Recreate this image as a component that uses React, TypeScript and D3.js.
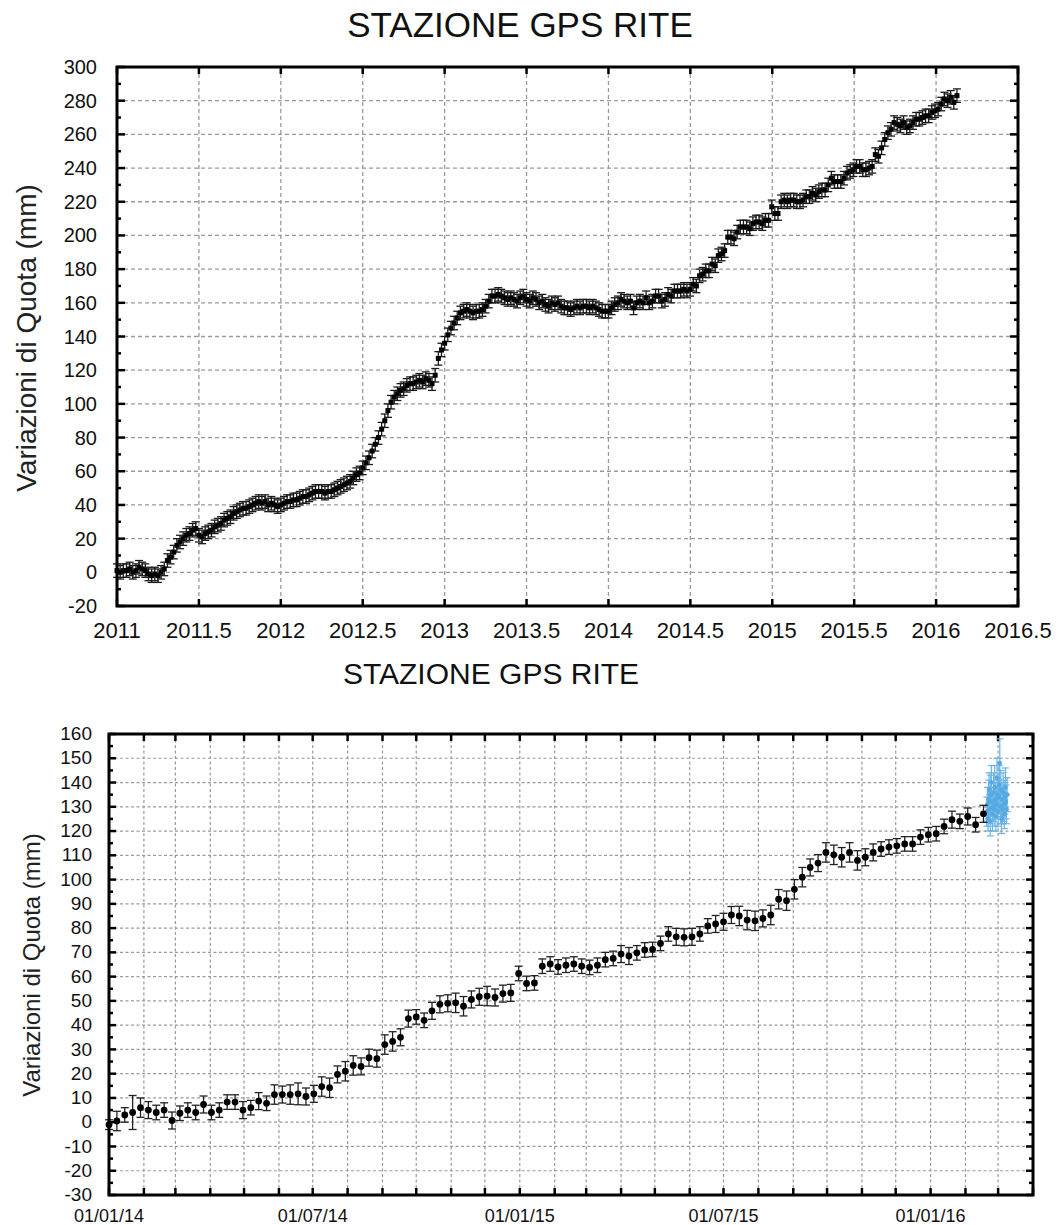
import React from 'react';
import * as d3 from 'd3';

const TITLE = 'STAZIONE GPS RITE';
const Y_LABEL = 'Variazioni di Quota (mm)';

// ---------- top chart (decimal years) ----------
const TOP_X_TICKS = [2011, 2011.5, 2012, 2012.5, 2013, 2013.5, 2014, 2014.5, 2015, 2015.5, 2016, 2016.5];
const TOP_Y_TICKS = [-20, 0, 20, 40, 60, 80, 100, 120, 140, 160, 180, 200, 220, 240, 260, 280, 300];
const TOP_Y_MINOR = [-10, 10, 30, 50, 70, 90, 110, 130, 150, 170, 190, 210, 230, 250, 270, 290];

// weekly readings per year
const TOP_2011 = [1, 0, 1, 1, 2, 0, 1, 3, 2, 1, -1, -2, -1, -2, 0, 2, 7, 9, 12, 16, 18, 20, 22, 23, 25, 26, 22, 21, 23, 24, 25, 27, 28, 29, 31, 32, 33, 35, 36, 37, 38, 38, 39, 40, 41, 42, 41, 42, 40, 41, 40, 39];
const TOP_2012 = [40, 41, 42, 42, 43, 43, 44, 45, 45, 46, 47, 48, 48, 48, 47, 48, 48, 49, 50, 51, 52, 53, 54, 56, 58, 59, 62, 65, 68, 72, 76, 80, 85, 90, 96, 101, 104, 106, 108, 109, 111, 112, 112, 113, 114, 113, 115, 114, 112, 117, 127, 132];
const TOP_2013 = [136, 141, 145, 148, 151, 154, 155, 156, 155, 154, 155, 155, 156, 158, 161, 164, 164, 165, 164, 163, 162, 163, 162, 161, 163, 164, 162, 161, 163, 162, 160, 161, 159, 158, 160, 159, 160, 158, 157, 157, 156, 157, 158, 157, 158, 158, 157, 158, 157, 156, 155, 155];
const TOP_2014_2016 = [155, 157, 159, 160, 162, 161, 160, 161, 157, 160, 161, 160, 163, 160, 161, 164, 164, 161, 162, 165, 164, 167, 167, 167, 168, 167, 168, 171, 170, 176, 177, 179, 179, 183, 182, 188, 189, 191, 199, 199, 198, 202, 205, 205, 205, 204, 207, 208, 208, 207, 209, 209, 217, 213, 213, 220, 221, 220, 221, 221, 220, 220, 221, 223, 223, 225, 224, 226, 227, 227, 230, 234, 232, 232, 232, 234, 237, 238, 239, 241, 241, 239, 239, 240, 241, 248, 247, 252, 257, 261, 263, 267, 266, 265, 267, 264, 265, 267, 269, 269, 270, 271, 271, 273, 274, 275, 278, 281, 280, 282, 279, 283];
const TOP_ERR = 4;

// ---------- bottom chart (weekly from 01/01/14) ----------
const BOT_START = new Date(2014, 0, 1);
const BOT_END = new Date(2016, 3, 1);
const BOT_Y_TICKS = [-30, -20, -10, 0, 10, 20, 30, 40, 50, 60, 70, 80, 90, 100, 110, 120, 130, 140, 150, 160];
const BOT_X_LABELS = [new Date(2014, 0, 1), new Date(2014, 6, 1), new Date(2015, 0, 1), new Date(2015, 6, 1), new Date(2016, 0, 1)];
const BOT_VALUES = [-1, 0.5, 3, 4, 6, 5, 4, 5, 0.7, 3.7,
  5, 4, 7.3, 4, 5, 8.3, 8.3, 5, 6, 8.7,
  7.8, 11.4, 11.4, 11.4, 11.7, 10.6, 11.7, 14.7, 14.2, 19.7,
  21, 23.4, 23, 26.6, 26.2, 32, 33.3, 35, 42.7, 43.4,
  42, 45.9, 48.6, 49, 49.2, 47.8, 50.6, 51.7, 52, 51.4,
  53, 53.3, 61.3, 57.2, 57.4, 64.3, 65.2, 64, 64.7, 65.2,
  64.3, 63.8, 64.7, 67, 67.5, 69.3, 68.5, 69.8, 71, 71.2,
  73.7, 77.6, 76.4, 76.2, 76.4, 77.6, 80.9, 81.7, 82.6, 85.4,
  85, 83.3, 83, 84, 85.4, 91.9, 91.3, 96, 101, 105,
  106.8, 111.2, 110.2, 109.2, 111.2, 107.9, 109.2, 111.2, 112.6, 113.4,
  113.9, 114.7, 114.7, 117.5, 118.5, 118.9, 121.9, 124.7, 124, 126,
  122.6, 127.1];
const BOT_ERR = [2, 4, 3, 7, 4, 3.5, 3, 3, 3.5, 3,
  3, 3, 3.5, 3, 3, 3, 3, 3.5, 3, 3.5,
  3, 4, 3.5, 4, 4.5, 3.5, 3.5, 4, 4, 3.5,
  4, 4, 3.5, 3.5, 3.5, 4, 4, 3.5, 3.5, 3,
  3, 3.5, 3.5, 3.5, 4, 4, 3.5, 3.5, 4, 3.5,
  3.5, 3.5, 3, 3, 3, 3, 3, 3, 3, 3,
  3, 3, 3, 3, 3, 3.5, 3.5, 3, 3, 3,
  3, 3, 3.5, 3.5, 3.5, 3, 3, 3.5, 3.5, 3.5,
  4, 4, 4, 3.5, 4, 4, 4, 4, 4, 3.5,
  3.5, 4, 4, 4, 4, 4, 3.5, 3.5, 3, 3,
  3, 3, 3, 3, 3, 3, 3, 3.5, 3, 3.5,
  3, 3.5];
// blue cluster: days after 01/01/16
const BLUE_DAYS = [50, 50.5, 51, 51.5, 52, 52.5, 53, 53.5, 54, 54.5, 55, 55.5, 56, 56.5, 57, 57.5, 58, 58.5, 59, 59.5, 60, 60.5, 61, 61.5, 62, 62.5, 63, 63.5, 64, 64.5, 65, 65.5, 66, 66.5, 67, 67.5, 68];
const BLUE_VALUES = [128, 131, 125, 133, 137, 129, 124, 135, 140, 132, 127, 130, 136, 129, 138, 133, 126, 131, 142, 135, 128, 134, 139, 148, 130, 137, 125, 133, 129, 136, 131, 127, 134, 138, 132, 129, 135];
const BLUE_ERR = [6, 7, 5, 8, 7, 6, 6, 8, 7, 6, 7, 6, 8, 7, 9, 7, 6, 6, 8, 7, 6, 7, 8, 10, 7, 8, 6, 7, 6, 8, 7, 6, 7, 8, 7, 6, 7];

const FONT = '"Liberation Sans", Arial, Helvetica, sans-serif';

type Pt = { x: number; y: number; e: number };

function ErrPoint({ px, py0, py1, cap, color, sw }: { px: number; py0: number; py1: number; cap: number; color: string; sw: number }) {
  return (
    <g stroke={color} strokeWidth={sw}>
      <line x1={px} x2={px} y1={py0} y2={py1} />
      <line x1={px - cap} x2={px + cap} y1={py0} y2={py0} />
      <line x1={px - cap} x2={px + cap} y1={py1} y2={py1} />
    </g>
  );
}

export default function App() {
  const W = 1058, H = 1225;

  // top scales
  const tx = d3.scaleLinear().domain([2011, 2016.5]).range([117, 1018]);
  const ty = d3.scaleLinear().domain([-20, 300]).range([606, 67]);
  const topPts: Pt[] = [];
  TOP_2011.forEach((v, i) => topPts.push({ x: 2011 + i / 52, y: v, e: TOP_ERR }));
  TOP_2012.forEach((v, i) => topPts.push({ x: 2012 + i / 52, y: v, e: TOP_ERR }));
  TOP_2013.forEach((v, i) => topPts.push({ x: 2013 + i / 52, y: v, e: TOP_ERR }));
  TOP_2014_2016.forEach((v, i) => topPts.push({ x: 2014 + (i * 7) / 365.25, y: v, e: TOP_ERR }));

  // bottom scales
  const bx = d3.scaleTime().domain([BOT_START, BOT_END]).range([109, 1033]);
  const by = d3.scaleLinear().domain([-30, 160]).range([1195, 734]);
  const botPts = BOT_VALUES.map((v, i) => ({ d: d3.timeDay.offset(BOT_START, i * 7), y: v, e: BOT_ERR[i] ?? 3.5 }));
  const blueStart = new Date(2016, 0, 1);
  const bluePts = BLUE_VALUES.map((v, i) => ({ d: new Date(blueStart.getTime() + BLUE_DAYS[i] * 86400000), y: v, e: BLUE_ERR[i] ?? 7 }));
  const months = d3.timeMonth.range(d3.timeMonth.offset(BOT_START, 1), BOT_END);
  const monthsAll = d3.timeMonth.range(BOT_START, d3.timeDay.offset(BOT_END, 1));
  const fmt = d3.timeFormat('%d/%m/%y');

  const [tL, tR] = tx.range();
  const [tB, tT] = ty.range();
  const [bL, bR] = bx.range();
  const [bB, bT] = by.range();

  const gridTopX = TOP_X_TICKS.filter((t) => t > 2011 && t < 2016.5);
  const gridTopY = TOP_Y_TICKS.filter((t) => t > -20 && t < 300);
  const gridBotY = BOT_Y_TICKS.filter((t) => t > -30 && t < 160);
  const botMinorY = d3.range(-25, 160, 10);

  return (
    <svg width={W} height={H} style={{ position: 'absolute', left: 0, top: 0, display: 'block', background: '#fff' }} fontFamily={FONT}>
      <rect x={0} y={0} width={W} height={H} fill="#fff" />
      {/* ================= TOP CHART ================= */}
      <text x={520} y={37} textAnchor="middle" fontSize={35} fill="#111">{TITLE}</text>
      <g stroke="#9a9a9a" strokeWidth={1.3} strokeDasharray="4,3">
        {gridTopX.map((t) => (
          <line key={'tgx' + t} x1={tx(t)} x2={tx(t)} y1={tT} y2={tB} />
        ))}
        {gridTopY.map((t) => (
          <line key={'tgy' + t} x1={tL} x2={tR} y1={ty(t)} y2={ty(t)} />
        ))}
      </g>
      {/* ticks */}
      <g stroke="#000" strokeWidth={2.5}>
        {TOP_X_TICKS.map((t) => (
          <g key={'ttx' + t}>
            <line x1={tx(t)} x2={tx(t)} y1={tB} y2={tB - 7} />
            <line x1={tx(t)} x2={tx(t)} y1={tT} y2={tT + 7} />
          </g>
        ))}
        {TOP_Y_TICKS.map((t) => (
          <g key={'tty' + t}>
            <line x1={tL} x2={tL + 8} y1={ty(t)} y2={ty(t)} />
            <line x1={tR} x2={tR - 8} y1={ty(t)} y2={ty(t)} />
          </g>
        ))}
        {TOP_Y_MINOR.map((t) => (
          <g key={'ttm' + t}>
            <line x1={tL} x2={tL + 4} y1={ty(t)} y2={ty(t)} />
            <line x1={tR} x2={tR - 4} y1={ty(t)} y2={ty(t)} />
          </g>
        ))}
      </g>
      {/* data */}
      <g>
        {topPts.map((p, i) => (
          <ErrPoint key={'tp' + i} px={tx(p.x)} py0={ty(p.y + p.e)} py1={ty(p.y - p.e)} cap={4} color="#1a1a1a" sw={1.3} />
        ))}
        {topPts.map((p, i) => (
          <rect key={'tm' + i} x={tx(p.x) - 2.5} y={ty(p.y) - 2.5} width={5} height={5} fill="#000" />
        ))}
      </g>
      <rect x={tL} y={tT} width={tR - tL} height={tB - tT} fill="none" stroke="#000" strokeWidth={3} />
      {/* labels */}
      <g fill="#111">
        {TOP_Y_TICKS.map((t) => (
          <text key={'tly' + t} x={97} y={ty(t)} dy="0.35em" textAnchor="end" fontSize={20}>{t}</text>
        ))}
        {TOP_X_TICKS.map((t) => (
          <text key={'tlx' + t} x={tx(t)} y={638} textAnchor="middle" fontSize={22}>{t}</text>
        ))}
      </g>
      <text transform={`translate(36,338) rotate(-90)`} textAnchor="middle" fontSize={28} fill="#222">{Y_LABEL}</text>

      {/* ================= BOTTOM CHART ================= */}
      <text x={491} y={684} textAnchor="middle" fontSize={30} fill="#111">{TITLE}</text>
      <g stroke="#9a9a9a" strokeWidth={1.2} strokeDasharray="3,2.5">
        {months.map((m) => (
          <line key={'bgx' + m.getTime()} x1={bx(m)} x2={bx(m)} y1={bT} y2={bB} />
        ))}
        {gridBotY.map((t) => (
          <line key={'bgy' + t} x1={bL} x2={bR} y1={by(t)} y2={by(t)} />
        ))}
      </g>
      <g stroke="#000" strokeWidth={2.5}>
        {monthsAll.map((m) => (
          <g key={'btx' + m.getTime()}>
            <line x1={bx(m)} x2={bx(m)} y1={bB} y2={bB - 7} />
            <line x1={bx(m)} x2={bx(m)} y1={bT} y2={bT + 7} />
          </g>
        ))}
        {BOT_Y_TICKS.map((t) => (
          <g key={'bty' + t}>
            <line x1={bL} x2={bL + 7} y1={by(t)} y2={by(t)} />
            <line x1={bR} x2={bR - 7} y1={by(t)} y2={by(t)} />
          </g>
        ))}
        {botMinorY.map((t) => (
          <g key={'btm' + t}>
            <line x1={bL} x2={bL + 4} y1={by(t)} y2={by(t)} />
            <line x1={bR} x2={bR - 4} y1={by(t)} y2={by(t)} />
          </g>
        ))}
      </g>
      {/* blue cluster */}
      <g>
        {bluePts.map((p, i) => (
          <ErrPoint key={'bl' + i} px={bx(p.d)} py0={by(p.y + p.e)} py1={by(p.y - p.e)} cap={3.5} color="#6ab4e6" sw={1.2} />
        ))}
        {bluePts.map((p, i) => (
          <circle key={'blm' + i} cx={bx(p.d)} cy={by(p.y)} r={2.3} fill="#55a9e2" />
        ))}
      </g>
      {/* black series */}
      <g>
        {botPts.map((p, i) => (
          <ErrPoint key={'bp' + i} px={bx(p.d)} py0={by(p.y + p.e)} py1={by(p.y - p.e)} cap={4} color="#222" sw={1.3} />
        ))}
        {botPts.map((p, i) => (
          <circle key={'bm' + i} cx={bx(p.d)} cy={by(p.y)} r={3.4} fill="#000" />
        ))}
      </g>
      <rect x={bL} y={bT} width={bR - bL} height={bB - bT} fill="none" stroke="#000" strokeWidth={3} />
      <g fill="#111">
        {BOT_Y_TICKS.map((t) => (
          <text key={'bly' + t} x={92} y={by(t)} dy="0.32em" textAnchor="end" fontSize={19}>{t}</text>
        ))}
        {BOT_X_LABELS.map((d) => (
          <text key={'blx' + d.getTime()} x={bx(d)} y={1221.5} textAnchor="middle" fontSize={18}>{fmt(d)}</text>
        ))}
      </g>
      <text transform={`translate(40,965) rotate(-90)`} textAnchor="middle" fontSize={24} fill="#222">{Y_LABEL}</text>
    </svg>
  );
}
